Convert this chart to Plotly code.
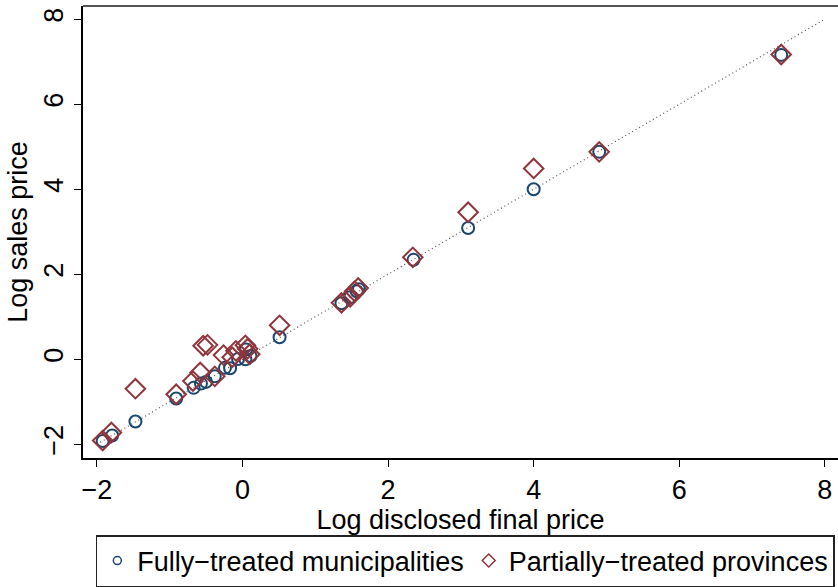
import plotly.graph_objects as go

# Fully-treated municipalities (circles)
full_x = [-1.92, -1.79, -1.47, -0.91, -0.67, -0.57, -0.50, -0.38, -0.24, -0.17,
          -0.06, 0.04, 0.05, 0.11, 0.51, 1.36, 1.48, 1.57, 1.60, 2.35, 3.10, 4.00, 4.90, 7.40]
full_y = [-1.92, -1.79, -1.46, -0.92, -0.67, -0.57, -0.53, -0.40, -0.20, -0.21,
          0.01, 0.00, 0.23, 0.08, 0.52, 1.32, 1.46, 1.60, 1.65, 2.34, 3.09, 4.00, 4.88, 7.16]

# Partially-treated provinces (diamonds)
part_x = [-1.92, -1.80, -1.47, -0.91, -0.68, -0.58, -0.54, -0.48, -0.38, -0.26, -0.14,
          -0.09, 0.04, 0.07, 0.10, 0.51, 1.36, 1.48, 1.54, 1.59, 2.34, 3.10, 4.00, 4.90, 7.40]
part_y = [-1.91, -1.72, -0.69, -0.82, -0.51, -0.31, 0.32, 0.34, -0.40, 0.10, 0.05,
          0.20, 0.33, 0.25, 0.12, 0.80, 1.33, 1.47, 1.60, 1.68, 2.40, 3.46, 4.49, 4.88, 7.17]

# 45-degree reference line
line_x = [-2, 8]
line_y = [-2, 8]

x_ticks = [-2, 0, 2, 4, 6, 8]
y_ticks = [-2, 0, 2, 4, 6, 8]

NAVY = "#1a476f"
MAROON = "#90353b"
FONT = "Liberation Sans, Arial, Helvetica, sans-serif"


def fmt(v):
    return ("\u2212" + str(-v)) if v < 0 else str(v)


fig = go.Figure()

fig.add_trace(go.Scatter(x=line_x, y=line_y, mode="lines",
                         line=dict(color="#555555", width=1.2, dash="1px,3px"),
                         showlegend=False, hoverinfo="skip"))

fig.add_trace(go.Scatter(x=full_x, y=full_y, mode="markers",
                         marker=dict(symbol="circle-open", size=12, color=NAVY,
                                     line=dict(width=2, color=NAVY)),
                         showlegend=False))
fig.add_trace(go.Scatter(x=part_x, y=part_y, mode="markers",
                         marker=dict(symbol="diamond-open", size=15, color=MAROON,
                                     line=dict(width=2, color=MAROON)),
                         showlegend=False))

# legend entries with small symbols
fig.add_trace(go.Scatter(x=[None], y=[None], mode="markers",
                         name="Fully\u2212treated municipalities",
                         marker=dict(symbol="circle-open", size=8, color=NAVY,
                                     line=dict(width=1.5, color=NAVY))))
fig.add_trace(go.Scatter(x=[None], y=[None], mode="markers",
                         name="Partially\u2212treated provinces",
                         marker=dict(symbol="diamond-open", size=10, color=MAROON,
                                     line=dict(width=1.5, color=MAROON))))

fig.update_layout(
    width=838, height=587,
    margin=dict(l=83, r=0, t=6, b=125),
    paper_bgcolor="white", plot_bgcolor="white",
    font=dict(family=FONT, size=27, color="black"),
    showlegend=True,
    legend=dict(orientation="h", x=0.017, y=-0.171, xanchor="left", yanchor="top",
                bordercolor="#222222", borderwidth=1.5, bgcolor="white",
                font=dict(size=27), itemwidth=30, tracegroupgap=0),
    xaxis=dict(range=[-2.19, 8.18], tickvals=x_ticks, ticktext=[fmt(v) for v in x_ticks],
               showgrid=False, zeroline=False, showline=True, linecolor="black", linewidth=1.5,
               ticks="outside", ticklen=7, tickwidth=1.2, tickcolor="black",
               tickfont=dict(size=27),
               title=dict(text="Log disclosed final price", font=dict(size=27), standoff=0)),
    yaxis=dict(range=[-2.32, 8.31], tickvals=y_ticks, ticktext=[fmt(v) for v in y_ticks],
               showgrid=False, zeroline=False, showline=True, linecolor="black", linewidth=1.5,
               ticks="outside", ticklen=7, tickwidth=1.2, tickcolor="black",
               tickangle=-90, tickfont=dict(size=27),
               title=dict(text="Log sales price", font=dict(size=27), standoff=4)),
    shapes=[dict(type="line", xref="paper", yref="paper", x0=0, x1=1, y0=1, y1=1,
                 line=dict(color="#555555", width=2))],
)

fig.write_html("out.html")
